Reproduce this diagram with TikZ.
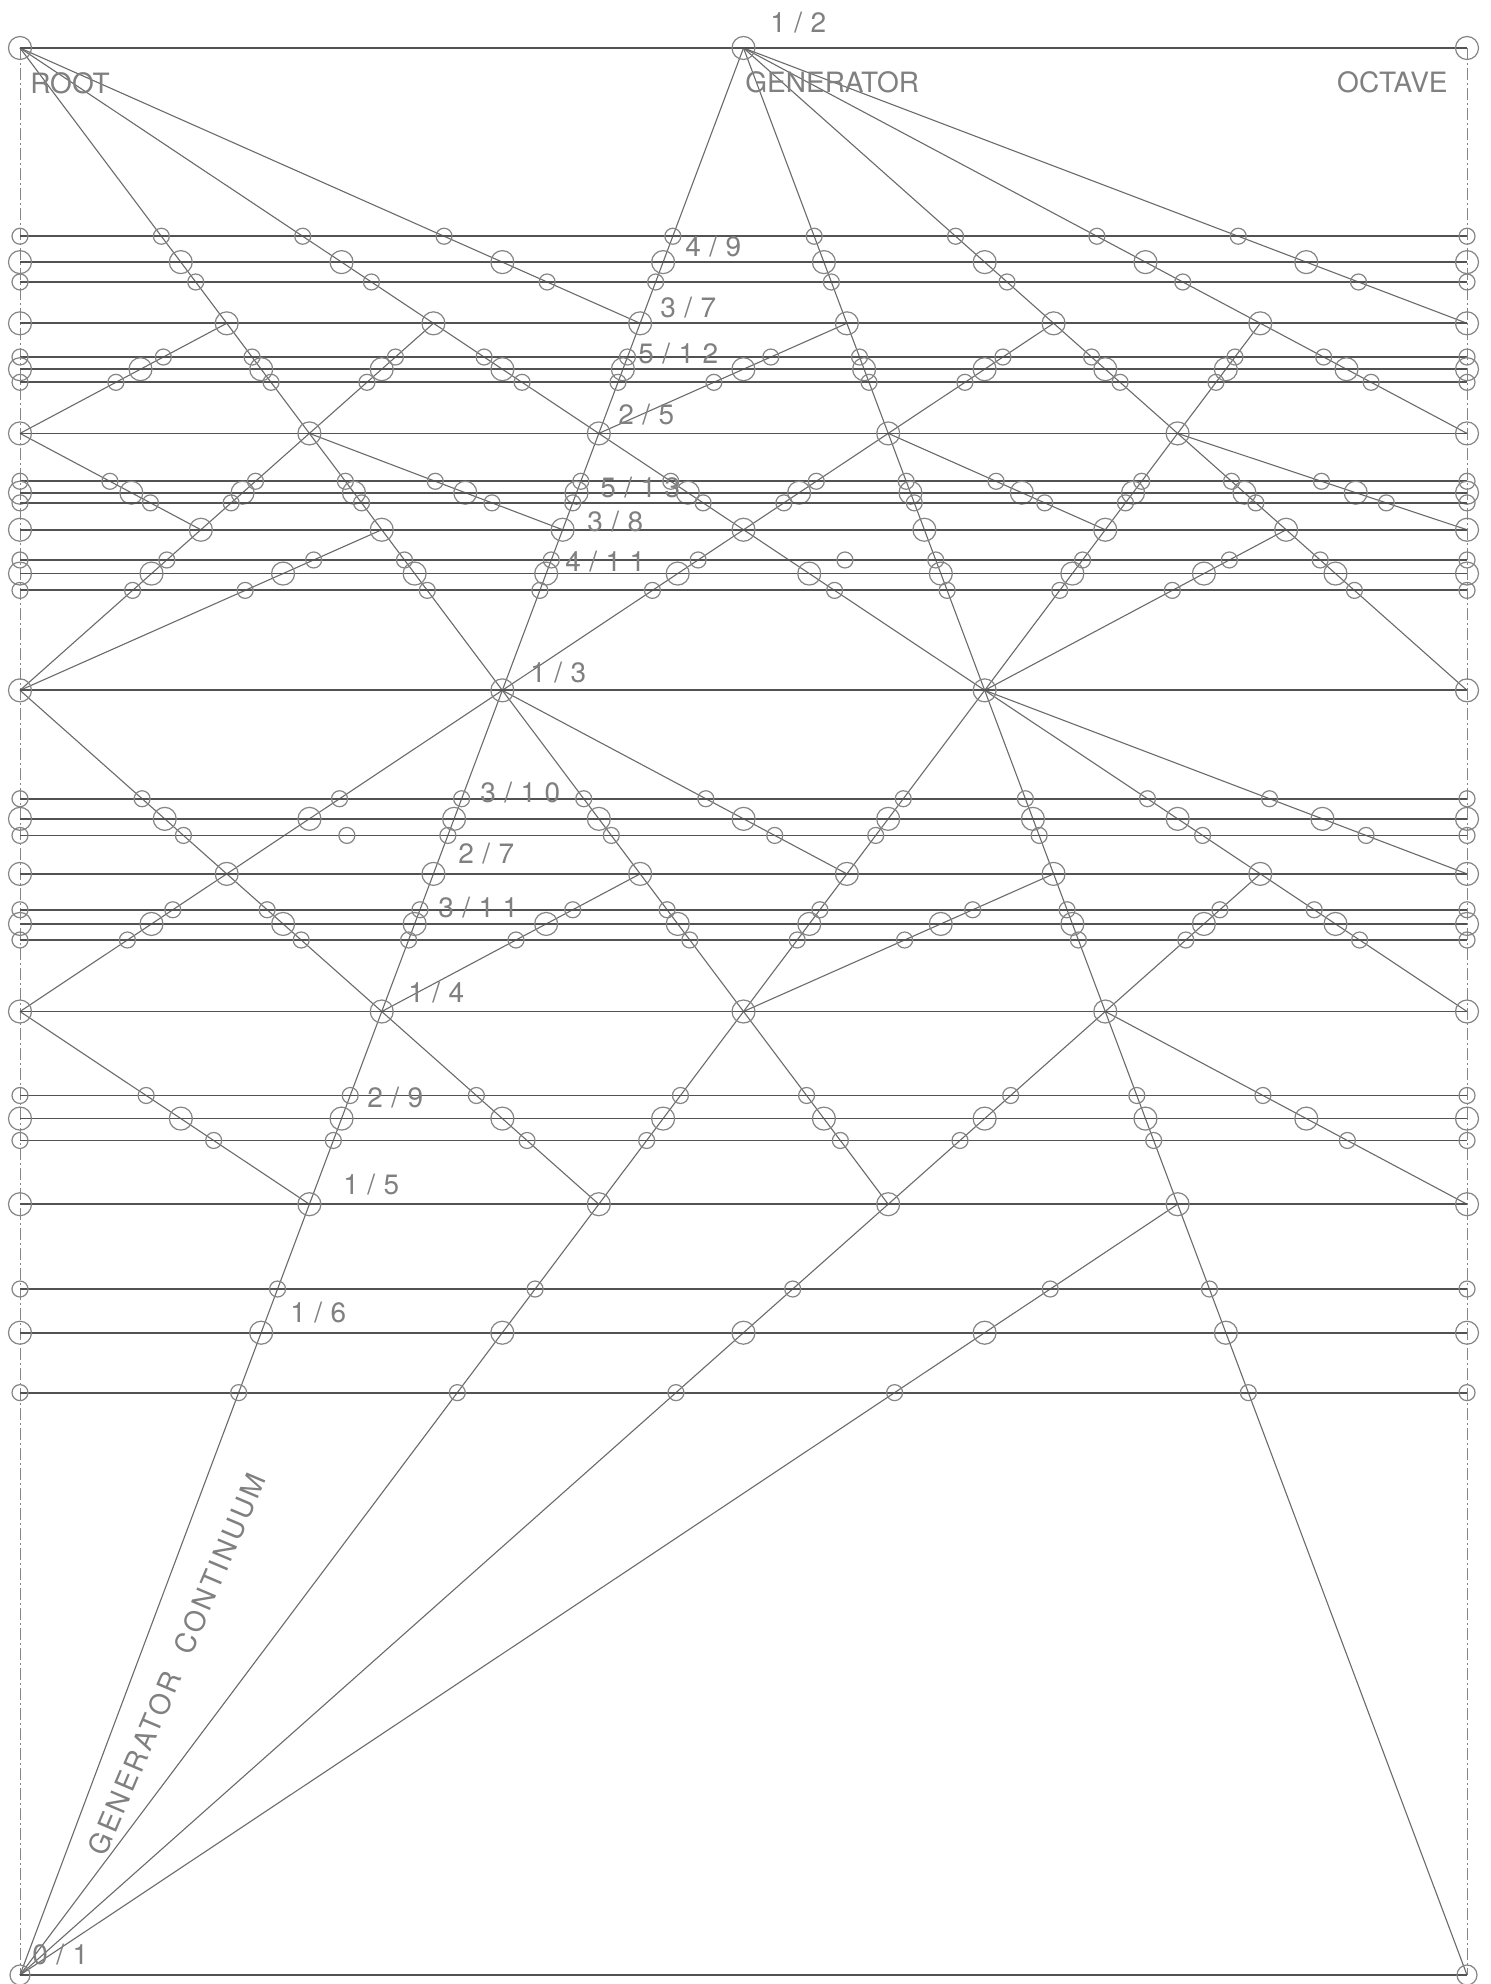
\documentclass[tikz,border=0pt]{standalone}
\usepackage{fontspec}
\newfontfamily\wlab{TeX Gyre Heros}
\newfontfamily\wfrac[LetterSpace=30]{TeX Gyre Heros}
\newfontfamily\wgcf[LetterSpace=10]{TeX Gyre Heros}
\definecolor{hline}{gray}{0.32}
\definecolor{dline}{gray}{0.42}
\definecolor{cline}{gray}{0.52}
\definecolor{tline}{gray}{0.5}
\tikzset{
 hz/.style={draw=hline, line width=0.9pt},
 diag/.style={draw=dline, line width=0.55pt},
 circ/.style={draw=cline, line width=0.6pt},
 edgeline/.style={draw=cline, line width=0.5pt, dash pattern=on 6pt off 1.5pt on 1pt off 1.5pt},
 lbl/.style={text=tline, font=\wlab\fontsize{14}{16}\selectfont, inner sep=0pt},
 frl/.style={text=tline, font=\wfrac\fontsize{14}{16}\selectfont, inner sep=0pt, anchor=west},
 gcl/.style={text=tline, font=\wgcf\fontsize{14}{16}\selectfont, inner sep=0pt},
}
\newcommand\wseg[3]{%
  \pgfmathsetmacro\wgm{((#2)+(#3))/2}%
  \pgfmathsetmacro\wn{floor((#1)*\wgm)}%
  \pgfmathsetmacro\wxa{20+1447*((#1)*(#2)-\wn)}%
  \pgfmathsetmacro\wya{1975-3854*(#2)}%
  \pgfmathsetmacro\wxb{20+1447*((#1)*(#3)-\wn)}%
  \pgfmathsetmacro\wyb{1975-3854*(#3)}%
  \draw[diag] (\wxa,\wya) -- (\wxb,\wyb);}
\newcommand\wint[3]{\foreach \mm in #3 {\wseg{\mm}{#1}{#2}}}
\newcommand\wleaf[6]{\wint{#1}{#2}{#6}\wint{#2}{#3}{#6}\wint{#3}{#4}{#6}\wint{#4}{#5}{#6}}
\newcommand\wcirc[3]{%
  \pgfmathsetmacro\wv{(#1)*(#2)-floor((#1)*(#2)+0.0001)}%
  \pgfmathsetmacro\wyc{1975-3854*(#2)}%
  \draw[circ] ({20+1447*\wv},\wyc) circle[radius=#3];}
\newcommand\wlev[3]{%
  \pgfmathsetmacro\wyl{1975-3854*(#1)}%
  \draw[hz] (20,\wyl) -- (1467,\wyl);%
  \draw[circ] (20,\wyl) circle[radius=#3] (1467,\wyl) circle[radius=#3];%
  \foreach \mm in #2 {\wcirc{\mm}{#1}{#3}}}
\newcommand\wplev[3]{%
  \pgfmathsetmacro\wyl{1975-3854*(#1)}%
  \pgfmathtruncatemacro\wq{#2-1}%
  \draw[hz] (20,\wyl) -- (1467,\wyl);%
  \draw[circ] (20,\wyl) circle[radius=#3] (1467,\wyl) circle[radius=#3];%
  \foreach \jj in {1,...,\wq} {\draw[circ] ({20+1447*\jj/#2},\wyl) circle[radius=#3];}}
\def\Ca{-7,-6,-5,-4,-3,-2,-1,1}
\def\Cb{-5,-4,-3,-2,-1,1,2,3,4,5,6}
\def\Cc{-8,-7,-6,-5,-4,-3,-2,-1,1,2,3,4}
\def\Cd{-3,-2,-1,1,2,3,4,5,6,7}
\def\Cdl{-4,-3,-2,-1,1,2,3,4,5,6}
\def\Ce{-7,-6,-5,-4,-3,-2,-1,1,2}
\def\Cel{-7,-5,-4,-3,-2,-1,1,2,4}
\def\Cf{-4,-3,-2,-1,1,2,3,4,5,6}
\def\Cg{-5,-4,-3,-2,-1,1,2,3}
\def\Ch{-1,1,2,3,4}
\begin{document}
\begin{tikzpicture}[x=0.5pt,y=-0.5pt]
\fill[white] (0,0) rectangle (1491,1984);
\useasboundingbox (0,0) rectangle (1491,1984);
\draw[edgeline] (20,48) -- (20,1975);
\draw[edgeline] (1467,48) -- (1467,1975);
\wleaf{1/2}{0.451151}{4/9}{0.439291}{3/7}{\Ca}
\wleaf{3/7}{0.419821}{5/12}{0.413254}{2/5}{\Cb}
\wleaf{2/5}{0.387570}{5/13}{0.381966}{3/8}{\Cc}
\wleaf{3/8}{0.367160}{4/11}{0.359266}{1/3}{\Cdl}
\wleaf{1/3}{0.305213}{3/10}{0.295689}{2/7}{\Cel}
\wleaf{2/7}{0.276393}{3/11}{0.268560}{1/4}{\Cf}
\wleaf{1/4}{0.228208}{2/9}{0.216542}{1/5}{\Cg}
\wleaf{1/5}{0.177999}{1/6}{0.151103}{0}{\Ch}
\wplev{1/2}{2}{5.75pt}
\wplev{3/7}{7}{5.75pt}
\wplev{2/5}{5}{5.75pt}
\wplev{3/8}{8}{5.75pt}
\wplev{1/3}{3}{5.75pt}
\wplev{2/7}{7}{5.75pt}
\wplev{1/4}{4}{5.75pt}
\wplev{1/5}{5}{5.75pt}
\wlev{0.451151}{\Ca}{4pt}\wlev{4/9}{\Ca}{5.75pt}\wlev{0.439291}{\Ca}{4pt}
\wlev{0.419821}{\Cb}{4pt}\wlev{5/12}{\Cb}{5.75pt}\wlev{0.413254}{\Cb}{4pt}
\wlev{0.387570}{\Cc}{4pt}\wlev{5/13}{\Cc}{5.75pt}\wlev{0.381966}{\Cc}{4pt}
\wlev{0.367160}{\Cd}{4pt}\wlev{4/11}{\Cd}{5.75pt}\wlev{0.359266}{\Cdl}{4pt}
\wlev{0.305213}{\Cel}{4pt}\wlev{3/10}{\Ce}{5.75pt}\wlev{0.295689}{\Ce}{4pt}
\wlev{0.276393}{\Cf}{4pt}\wlev{3/11}{\Cf}{5.75pt}\wlev{0.268560}{\Cf}{4pt}
\wlev{0.228208}{\Cg}{4pt}\wlev{2/9}{\Cg}{5.75pt}\wlev{0.216542}{\Cg}{4pt}
\wlev{0.177999}{\Ch}{4pt}\wlev{1/6}{\Ch}{5.75pt}\wlev{0.151103}{\Ch}{4pt}
\draw[hz] (20,1975) -- (1467,1975);
\draw[circ] (20,1975) circle[radius=5pt] (1467,1975) circle[radius=5pt];
\node[lbl, anchor=west] (root) at (30,83) {ROOT};
\node[lbl, anchor=west] (gen) at (745,82) {GENERATOR};
\node[lbl, anchor=east] (oct) at (1448,82) {OCTAVE};
\node[frl] (f12) at (770,23) {1/2};
\node[frl] (f49) at (685,247) {4/9};
\node[frl] (f37) at (660,308) {3/7};
\node[frl] (f512) at (638,354) {5/12};
\node[frl] (f25) at (618,415) {2/5};
\node[frl] (f513) at (600,488) {5/13};
\node[frl] (f38) at (587,522) {3/8};
\node[frl] (f411) at (565,562) {4/11};
\node[frl] (f13) at (530,673) {1/3};
\node[frl] (f310) at (480,793) {3/10};
\node[frl] (f27) at (458,854) {2/7};
\node[frl] (f311) at (438,908) {3/11};
\node[frl] (f14) at (408,993) {1/4};
\node[frl] (f29) at (367,1098) {2/9};
\node[frl] (f15) at (343,1185) {1/5};
\node[frl] (f16) at (290,1313) {1/6};
\node[frl] (f01) at (32,1955) {0/1};
\node[gcl, rotate=67] (gc) at (177,1664) {GENERATOR\hspace{0.8em}CONTINUUM};
\end{tikzpicture}
\end{document}
